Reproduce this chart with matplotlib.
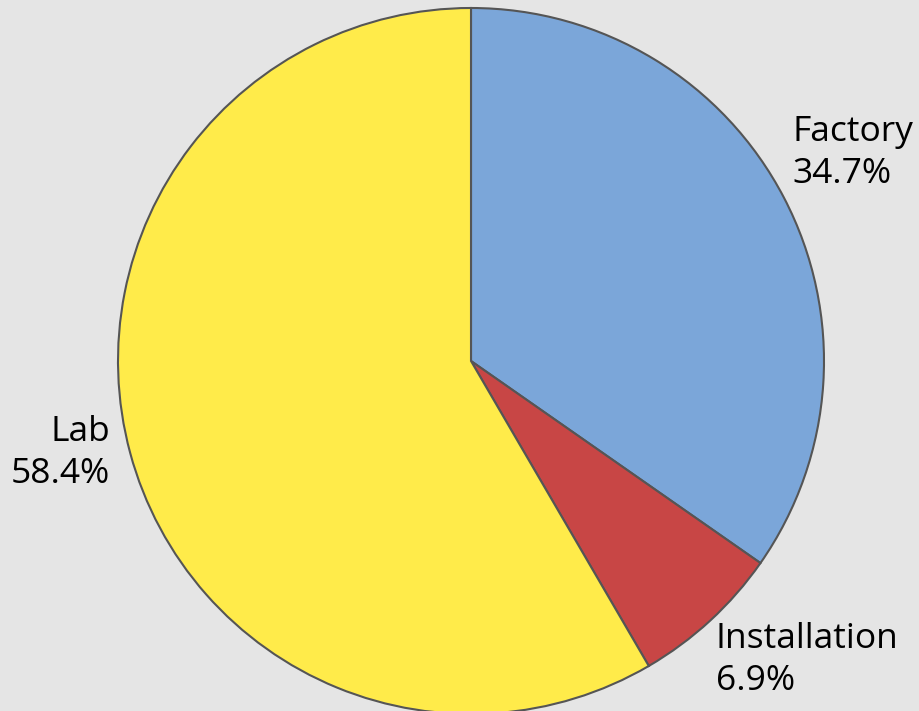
import numpy as np
import matplotlib.pyplot as plt

labels = ["Factory", "Installation", "Lab"]
shares = [34.7, 6.9, 58.4]
colors = ["#7BA6D9", "#C84645", "#FFEB4A"]

# label anchors (left/right edge x, last-line baseline y) in pie-radius units
label_pos = {"Factory": (0.912, 0.504, "left"),
             "Installation": (0.694, -0.932, "left"),
             "Lab": (-1.023, -0.346, "right")}

plt.rcParams['font.family'] = ['Open Sans', 'DejaVu Sans']

fig = plt.figure(figsize=(9.2, 7.11), dpi=100)
fig.patch.set_facecolor("#E5E5E5")
ax = fig.add_axes([0, 0, 1, 1])
ax.set_facecolor("#E5E5E5")

ax.pie(shares, colors=colors, startangle=90, counterclock=False, radius=1,
       wedgeprops=dict(edgecolor="#555555", linewidth=1.5))

for lab, val in zip(labels, shares):
    x, y, ha = label_pos[lab]
    ax.text(x, y, lab + "\n" + f"{val:.1f}%", ha=ha, va="baseline",
            multialignment=ha, fontsize=25.5, color="black", linespacing=1.32)

r = 353.0
cx, cy = 471.0, 361.0
ax.set_xlim(-cx / r, (920 - cx) / r)
ax.set_ylim(-(711 - cy) / r, cy / r)
ax.set_aspect("equal")
ax.axis("off")

fig.savefig("out.png", dpi=100, facecolor=fig.get_facecolor())
